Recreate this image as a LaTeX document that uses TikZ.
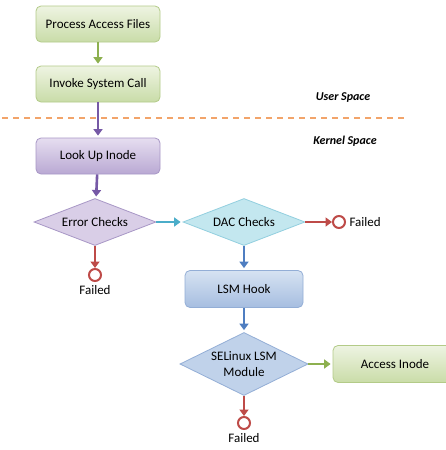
\documentclass[tikz,border=0pt]{standalone}
\usepackage{fontspec}
\setmainfont{Carlito}
\usetikzlibrary{arrows.meta,shapes.geometric}
\definecolor{grnline}{HTML}{B3CB88}
\definecolor{grntop}{HTML}{EEF4E2}
\definecolor{grnbot}{HTML}{C9DCA8}
\definecolor{grnarrow}{HTML}{8DB04F}
\definecolor{purline}{HTML}{A897C6}
\definecolor{purtop}{HTML}{E6DEF0}
\definecolor{purbot}{HTML}{B9A8D3}
\definecolor{purarrow}{HTML}{7659A6}
\definecolor{tealline}{HTML}{92CFDF}
\definecolor{tealfill}{HTML}{C3E7EF}
\definecolor{tealarrow}{HTML}{4BADC9}
\definecolor{bluline}{HTML}{93AED6}
\definecolor{blutop}{HTML}{D6E2F2}
\definecolor{blubot}{HTML}{A6BEE0}
\definecolor{bluarrow}{HTML}{4F7EC1}
\definecolor{redarrow}{HTML}{BE4B48}
\definecolor{dashline}{HTML}{F2A46A}
\tikzset{
  box/.style={draw, rounded corners=5pt, line width=0.8pt, minimum width=124pt, minimum height=36pt, font=\fontsize{13}{15}\selectfont},
  choice/.style={draw, diamond, aspect=2.5, inner sep=0pt, line width=0.8pt, minimum width=122pt, minimum height=47pt, align=center, font=\fontsize{13}{16}\selectfont},
  fail/.style={draw=redarrow, circle, fill=white, line width=2pt, minimum size=12pt, inner sep=0pt},
  txt/.style={font=\fontsize{13}{15}\selectfont},
  link/.style={line width=2.6pt, -{Triangle[length=6.5pt,width=9pt]}, shorten >=2pt}
}
\begin{document}
\begin{tikzpicture}[x=1pt,y=-1pt]
\useasboundingbox[fill=white] (0,0) rectangle (445,450);
\node[box, draw=grnline, top color=grntop, bottom color=grnbot] (1) at (98,24) {Process Access Files};
\node[box, draw=grnline, top color=grntop, bottom color=grnbot] (2) at (98,84) {Invoke System Call};
\node[box, draw=purline, top color=purtop, bottom color=purbot] (3) at (98,156) {Look Up Inode};
\node[choice, draw=purline, fill=purtop!70!purbot] (4) at (95,222) {Error Checks};
\node[choice, draw=tealline, fill=tealfill] (5) at (244,222) {DAC Checks};
\node[box, draw=bluline, top color=blutop, bottom color=blubot, minimum width=118pt, minimum height=37pt] (6) at (244,289) {LSM Hook};
\node[choice, draw=bluline, fill=blutop!55!blubot, minimum height=63pt] (7) at (244,364) {SELinux LSM\\Module};
\node[box, draw=grnline, top color=grntop, bottom color=grnbot, minimum width=124pt, minimum height=37pt] (8) at (395,364) {Access Inode};
\node[fail] (f1) at (95,275) {};
\node[fail] (f2) at (339,222) {};
\node[fail] (f3) at (244,423) {};
\node[txt, below=0pt] (l1) at (f1.south) {Failed};
\node[txt, right=0pt] (l2) at (f2.east) {Failed};
\node[txt, below=0pt] (l3) at (f3.south) {Failed};
\node[txt, font=\fontsize{12}{14}\selectfont\bfseries\itshape] (u) at (343,98) {User Space};
\node[txt, font=\fontsize{12}{14}\selectfont\bfseries\itshape] (k) at (345,141) {Kernel Space};
\coordinate (d1) at (2,118);
\coordinate (d2) at (405,118);
\path[draw, dashline, line width=1.5pt, dash pattern=on 6pt off 5pt] (d1) -- (d2);
\path[draw, link, grnarrow] (1) -- (2);
\path[draw, link, purarrow] (2) -- (3);
\path[draw, link, purarrow] (3) -- (4);
\path[draw, link, tealarrow] (4) -- (5);
\path[draw, link, redarrow, shorten >=0pt] (4) -- (f1);
\path[draw, link, redarrow, shorten >=0pt] (5) -- (f2);
\path[draw, link, bluarrow] (5) -- (6);
\path[draw, link, bluarrow] (6) -- (7);
\path[draw, link, grnarrow] (7) -- (8);
\path[draw, link, redarrow, shorten >=0pt] (7) -- (f3);
\end{tikzpicture}
\end{document}
